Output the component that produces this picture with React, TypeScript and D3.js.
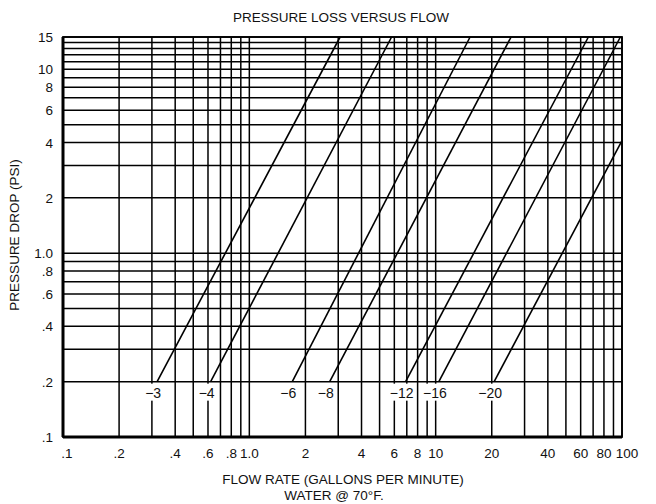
import React from "react";
import * as d3 from "d3";

// grid values (gpm / psi)
const xGridValues = [
  0.1, 0.2, 0.3, 0.4, 0.5, 0.6, 0.7, 0.8, 0.9, 1, 2, 3, 4, 5, 6, 7, 8, 9, 10,
  20, 30, 40, 50, 60, 70, 80, 90, 100,
];
const yGridValues = [
  0.1, 0.2, 0.3, 0.4, 0.5, 0.6, 0.7, 0.8, 0.9, 1, 2, 3, 4, 5, 6, 7, 8, 9, 10,
  11, 12, 13, 14, 15,
];
const xTickValues = [0.1, 0.2, 0.4, 0.6, 0.8, 1, 2, 4, 6, 8, 10, 20, 40, 60, 80, 100];
const xTickLabels = [".1", ".2", ".4", ".6", ".8", "1.0", "2", "4", "6", "8", "10", "20", "40", "60", "80", "100"];
const yTickValues = [15, 10, 8, 6, 4, 2, 1, 0.8, 0.6, 0.4, 0.2, 0.1];
const yTickLabels = ["15", "10", "8", "6", "4", "2", "1.0", ".8", ".6", ".4", ".2", ".1"];

// hose sizes: each line runs from (startFlow, startPsi) to (endFlow, endPsi)
const seriesNames = ["\u22123", "\u22124", "\u22126", "\u22128", "\u221212", "\u221216", "\u221220"];
const startFlow = [0.32, 0.62, 1.7, 2.7, 6.9, 10.4, 20.6];
const startPsi = [0.2, 0.2, 0.2, 0.2, 0.2, 0.2, 0.2];
const endFlow = [3.07, 5.8, 15.3, 25.4, 66, 98, 100];
const endPsi = [15, 15, 15, 15, 15, 15, 4.1];

const W = 656;
const H = 504;
const left = 63, right = 622, top = 37, bottom = 437;
const font = "'Liberation Sans', Arial, Helvetica, sans-serif";

export default function App() {
  const x = d3.scaleLog().domain([0.1, 100]).range([left, right]);
  const y = d3.scaleLog().domain([0.1, 15]).range([bottom, top]);
  const line = d3.line<[number, number]>().x((d) => x(d[0])).y((d) => y(d[1]));

  return (
    <div style={{ position: "absolute", left: 0, top: 0 }}>
      <svg width={W} height={H} viewBox={`0 0 ${W} ${H}`} style={{ display: "block", background: "#fff" }}>
        <text x={341} y={22} textAnchor="middle" fontFamily={font} fontSize={13.5} fill="#111">
          PRESSURE LOSS VERSUS FLOW
        </text>

        {/* grid */}
        <g stroke="#000" strokeWidth={1.5}>
          {xGridValues.map((v) => (
            <line key={"gx" + v} x1={x(v)} x2={x(v)} y1={top} y2={bottom} />
          ))}
          {yGridValues.map((v) => (
            <line key={"gy" + v} x1={left} x2={right} y1={y(v)} y2={y(v)} />
          ))}
        </g>
        <rect x={left} y={top} width={right - left} height={bottom - top} fill="none" stroke="#000" strokeWidth={1.8} />
        <line x1={left} x2={left} y1={top} y2={bottom} stroke="#000" strokeWidth={3} />
        <line x1={left} x2={right} y1={bottom} y2={bottom} stroke="#000" strokeWidth={3} />

        {/* series */}
        <g fill="none" stroke="#000" strokeWidth={1.6}>
          {seriesNames.map((n, i) => (
            <path
              key={n}
              d={line([
                [startFlow[i], startPsi[i]],
                [endFlow[i], endPsi[i]],
              ]) as string}
            />
          ))}
        </g>
        {seriesNames.map((n, i) => {
          const cx = x(startFlow[i]) - 4;
          const cy = y(startPsi[i]);
          const w = n.length * 8 + 2;
          return (
            <g key={"lab" + n}>
              <rect x={cx - w / 2} y={cy + 2} width={w} height={17} fill="#fff" />
              <text x={cx} y={cy + 16} textAnchor="middle" fontFamily={font} fontSize={14} fill="#111">
                {n}
              </text>
            </g>
          );
        })}

        {/* axes labels */}
        {xTickValues.map((v, i) => (
          <text
            key={"xt" + v}
            x={x(v) + (i === 0 ? 4 : i === xTickValues.length - 1 ? 5 : 0)}
            y={bottom + 21}
            textAnchor="middle"
            fontFamily={font}
            fontSize={13.5}
            fill="#111"
          >
            {xTickLabels[i]}
          </text>
        ))}
        {yTickValues.map((v, i) => (
          <text key={"yt" + v} x={left - 10} y={y(v) + 5} textAnchor="end" fontFamily={font} fontSize={13.5} fill="#111">
            {yTickLabels[i]}
          </text>
        ))}

        <text
          transform={`translate(19,${235}) rotate(-90)`}
          textAnchor="middle"
          fontFamily={font}
          fontSize={13.5}
          fill="#111"
        >
          PRESSURE DROP (PSI)
        </text>
        <text x={343} y={484} textAnchor="middle" fontFamily={font} fontSize={13.5} fill="#111">
          FLOW RATE (GALLONS PER MINUTE)
        </text>
        <text x={334} y={500} textAnchor="middle" fontFamily={font} fontSize={13.5} fill="#111">
          WATER @ 70°F.
        </text>
      </svg>
    </div>
  );
}
